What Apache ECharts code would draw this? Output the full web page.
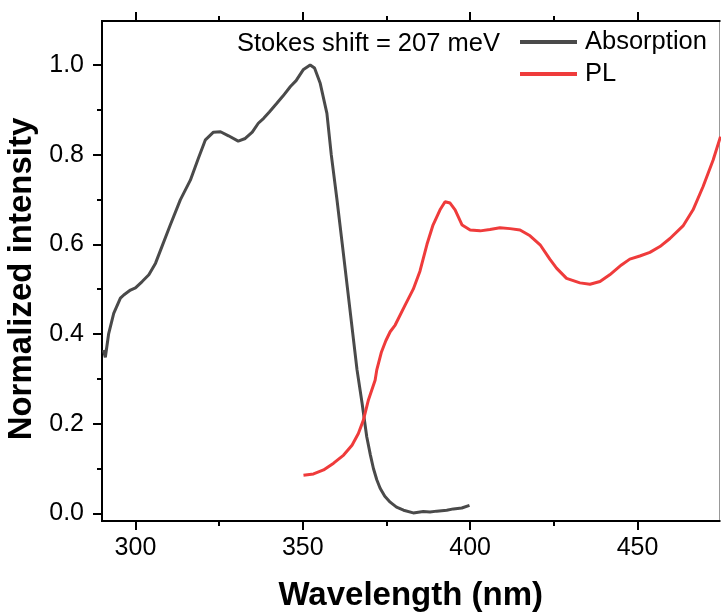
<!DOCTYPE html>
<html>
<head>
<meta charset="utf-8">
<script src="https://cdn.jsdelivr.net/npm/echarts@6/dist/echarts.min.js"></script>
<style>html,body{margin:0;padding:0;background:#fff}#c{width:721px;height:614px}</style>
</head>
<body>
<div id="c"></div>
<script>
const seriesNames = ['Absorption', 'PL'];
const absorption = [
[290.4,0.364],[291.0,0.348],[292.0,0.401],[293.5,0.446],[295.5,0.480],[296.5,0.487],[298.5,0.498],[300,0.503],
[302,0.517],[304,0.532],[306,0.558],[307.5,0.587],[310.4,0.643],[313.4,0.699],[316.4,0.743],[318.8,0.792],
[320.9,0.833],[323.3,0.850],[325.4,0.851],[327.8,0.842],[330.7,0.830],[332.8,0.836],[334.9,0.850],[336.7,0.870],
[338.3,0.881],[340,0.895],[342.3,0.915],[344,0.930],[346.3,0.952],[348,0.965],[350.2,0.990],[352.2,1.0],
[353.5,0.993],[355.2,0.959],[357.2,0.892],[358.5,0.80],[360.2,0.70],[361.8,0.60],[364,0.46],
[366.2,0.320],[367.7,0.246],[369.1,0.171],[370.2,0.130],[371.1,0.100],[372.1,0.075],[373.1,0.056],[374.5,0.038],
[376.1,0.025],[378,0.014],[380.1,0.007],[383.0,0.001],[386,0.004],[388,0.003],[390,0.005],[393,0.007],[395,0.010],
[397.5,0.012],[399.8,0.018]
];
const pl = [
[350.2,0.085],[353.2,0.088],[356.2,0.097],[359.2,0.112],[362.2,0.130],[364.7,0.152],[366.6,0.178],[368.1,0.208],
[369.6,0.253],[371.6,0.297],[372.1,0.320],[373.5,0.360],[374.8,0.385],[376.1,0.405],[377.6,0.420],[380.6,0.465],
[383.0,0.500],[385.0,0.540],[387.1,0.600],[388.9,0.643],[391.0,0.677],[392.5,0.695],[394.0,0.692],[395.5,0.677],
[397.6,0.643],[400.0,0.632],[403.0,0.630],[405.9,0.633],[408.9,0.637],[411.9,0.635],[414.9,0.632],[417.9,0.619],
[420.9,0.599],[423.8,0.567],[425.8,0.547],[428.8,0.524],[432.8,0.514],[435.8,0.511],[438.8,0.517],[441.7,0.532],
[445.2,0.554],[447.7,0.567],[450.7,0.574],[453.7,0.582],[456.7,0.595],[459.7,0.613],[463.6,0.641],[466.6,0.677],
[469.6,0.729],[472.6,0.788],[474.8,0.840]
];
const xMajorTicks = [300, 350, 400, 450];
const xMinorTicks = [325, 375, 425];
const yMajorTicks = [0, 0.2, 0.4, 0.6, 0.8, 1.0];
const yMinorTicks = [0.1, 0.3, 0.5, 0.7, 0.9];
const annotation = 'Stokes shift = 207 meV';
const xTitle = 'Wavelength (nm)';
const yTitle = 'Normalized intensity';

const X_MIN = 290, X_MAX = 474.5, Y_MIN = -0.017, Y_MAX = 1.098;
const FONT = 'Liberation Sans, Arial, sans-serif';
const lineStyleAxis = { color: '#000', width: 2 };

function xAx(pos, ticks, len, opts) {
  return Object.assign({
    type: 'value', position: pos, min: X_MIN, max: X_MAX,
    axisLine: { show: true, onZero: false, lineStyle: lineStyleAxis },
    axisTick: { show: true, inside: false, length: len, customValues: ticks, lineStyle: { width: 2, color: '#000' } },
    axisLabel: { show: false },
    splitLine: { show: false }
  }, opts || {});
}
function yAx(pos, ticks, len, opts) {
  return Object.assign({
    type: 'value', position: pos, min: Y_MIN, max: Y_MAX,
    axisLine: { show: true, onZero: false, lineStyle: lineStyleAxis },
    axisTick: { show: true, inside: false, length: len, customValues: ticks, lineStyle: { width: 2, color: '#000' } },
    axisLabel: { show: false },
    splitLine: { show: false }
  }, opts || {});
}

const chart = echarts.init(document.getElementById('c'), null, { renderer: 'canvas' });
chart.setOption({
  animation: false,
  backgroundColor: '#fff',
  grid: { left: 102, right: 1.5, top: 21, bottom: 93, containLabel: false, outerBoundsMode: 'none' },
  xAxis: [
    xAx('bottom', xMajorTicks, 9, {
      axisLabel: { show: true, customValues: xMajorTicks, margin: 15, fontSize: 25, color: '#000', fontFamily: FONT },
      name: xTitle, nameLocation: 'middle', nameGap: 58,
      nameTextStyle: { fontSize: 33, fontWeight: 'bold', color: '#000', fontFamily: FONT }
    }),
    xAx('bottom', xMinorTicks, 5),
    xAx('top', xMajorTicks, 9),
    xAx('top', xMinorTicks, 5)
  ],
  yAxis: [
    yAx('left', yMajorTicks, 9, {
      axisLabel: { show: true, customValues: yMajorTicks, margin: 18, fontSize: 25, color: '#000', fontFamily: FONT,
        formatter: v => v.toFixed(1) },
      name: yTitle, nameLocation: 'middle', nameGap: 60, nameRotate: 90,
      nameTextStyle: { fontSize: 33, fontWeight: 'bold', color: '#000', fontFamily: FONT, padding: [0, 16, 0, 0] }
    }),
    yAx('left', yMinorTicks, 5),
    yAx('right', [], 0, { axisLine: { show: true, onZero: false, lineStyle: { color: '#999', width: 1 } }, axisTick: { show: false } })
  ],
  legend: {
    orient: 'vertical', left: 520, top: 29, padding: 0, itemWidth: 57, itemHeight: 4, itemGap: 6, icon: 'rect',
    textStyle: { fontSize: 25.5, color: '#000', fontFamily: FONT, lineHeight: 25, padding: [0, 0, 0, 3] },
    data: seriesNames
  },
  graphic: [{
    type: 'text', left: 237, top: 31,
    style: { text: annotation, font: '25.5px ' + FONT, fill: '#000' }
  }],
  series: [
    { name: seriesNames[0], type: 'line', data: absorption, showSymbol: false, smooth: false,
      lineStyle: { color: '#4a4a4a', width: 3 }, itemStyle: { color: '#4a4a4a' } },
    { name: seriesNames[1], type: 'line', data: pl, showSymbol: false, smooth: false,
      lineStyle: { color: '#ef3b3b', width: 3 }, itemStyle: { color: '#ef3b3b' } }
  ]
});
</script>
</body>
</html>
